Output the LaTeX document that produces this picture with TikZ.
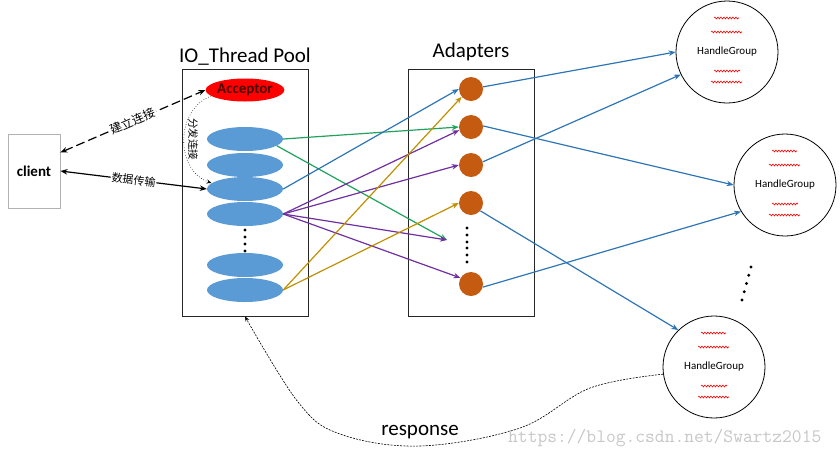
\documentclass[tikz,border=0pt]{standalone}
\usepackage{fontspec}
\setmainfont{Carlito}
\newfontfamily\cjk{Noto Sans CJK SC}
\usetikzlibrary{shapes.geometric,arrows.meta,decorations.pathmorphing}
\definecolor{tblue}{HTML}{5B9BD5}
\definecolor{aorange}{HTML}{C55A11}
\definecolor{lblue}{HTML}{2E75B6}
\definecolor{lgreen}{HTML}{1FA35C}
\definecolor{lpurple}{HTML}{7030A0}
\definecolor{lgold}{HTML}{BF9000}
\definecolor{acctext}{HTML}{4A0000}
\newcommand\hgwaves[1]{%
  \draw[wave] ([shift={(-13,-34)}]#1.center) -- ++(25,0);
  \draw[wave] ([shift={(-16,-20)}]#1.center) -- ++(31,0);
  \draw[wave] ([shift={(-13,19)}]#1.center) -- ++(26,0);
  \draw[wave] ([shift={(-16,30)}]#1.center) -- ++(31,0);}
\begin{document}
\begin{tikzpicture}[x=1pt,y=-1pt,
  pool/.style={draw=black!85, line width=0.8pt, minimum width=126pt, minimum height=247pt, inner sep=0pt},
  title/.style={font=\fontsize{21}{24}\selectfont},
  thread/.style={ellipse, fill=tblue, minimum width=76pt, minimum height=24pt, inner sep=0pt},
  adapter/.style={circle, fill=aorange, minimum size=24pt, inner sep=0pt},
  hgroup/.style={circle, draw, line width=0.8pt, minimum size=102pt, inner sep=0pt, font=\fontsize{11}{13}\selectfont},
  flow/.style={line width=1.2pt, -{Stealth[length=7pt,width=5.5pt]}},
  wave/.style={red, line width=0.6pt, decorate, decoration={snake, segment length=3pt, amplitude=0.9pt}},
  bdot/.style={circle, fill=black, inner sep=0pt, minimum size=3.2pt},
  cjklabel/.style={fill=white, inner sep=1pt}
]
\useasboundingbox (0,0) rectangle (840,459);

% client
\node[draw=black!30, line width=0.8pt, minimum width=52pt, minimum height=74pt, inner sep=0pt,
      font=\bfseries\fontsize{15}{17}\selectfont] (client) at (34,171) {client};

% IO thread pool
\node[pool] (io) at (245,192.5) {};
\node[title] (iot) at (245,57) {IO\_Thread Pool};
\node[ellipse, fill=red, minimum width=75pt, minimum height=23pt, inner sep=0pt,
      font=\bfseries\fontsize{15}{17}\selectfont, text=acctext] (acc) at (245,90) {Acceptor};
\node[thread] (e1) at (245,139) {};
\node[thread] (e2) at (245,165) {};
\node[thread] (e3) at (245,189) {};
\node[thread] (e4) at (245,214) {};
\node[thread] (e5) at (245,265) {};
\node[thread] (e6) at (245,290) {};
\foreach \yy [count=\i] in {230,237,244,251} \node[bdot] (iod\i) at (245,\yy) {};

% Adapters
\node[pool] (ad) at (471.5,192.5) {};
\node[title] (adt) at (471,52) {Adapters};
\node[adapter] (a1) at (471,89) {};
\node[adapter] (a2) at (471,127) {};
\node[adapter] (a3) at (471,165) {};
\node[adapter] (a4) at (471,203) {};
\node[adapter] (a5) at (471,284) {};
\foreach \yy [count=\i] in {228,235,242,248,255,262} \node[bdot] (add\i) at (467,\yy) {};
\coordinate (dd) at (447,240);

% Handle groups
\node[hgroup] (hg1) at (727,52) {HandleGroup};
\node[hgroup] (hg2) at (785,185) {HandleGroup};
\node[hgroup] (hg3) at (714,367) {HandleGroup};
\hgwaves{hg1}
\hgwaves{hg2}
\hgwaves{hg3}
\foreach \i in {0,...,4} \node[bdot] (hgd\i) at ({751-2.25*\i},{267+8.25*\i}) {};

% client connections
\draw[line width=1.2pt, dash pattern=on 9pt off 4pt, {Stealth[length=7pt,width=5.5pt]}-{Stealth[length=7pt,width=5.5pt]}]
  (client.35) -- (acc.west) node[midway, sloped, cjklabel, font=\cjk\fontsize{12}{14}\selectfont] {建立连接};
\draw[line width=1.2pt, {Stealth[length=7pt,width=5.5pt]}-{Stealth[length=7pt,width=5.5pt]}]
  (client.east) -- (e3.west) node[midway, sloped, cjklabel, font=\cjk\fontsize{11}{13}\selectfont] {数据传输};
\draw[dotted, line width=0.6pt, -{Stealth[length=5pt,width=4pt]}]
  (acc.190) .. controls (175,110) and (175,170) .. (e3.170);
\node[font=\cjk\fontsize{10.5}{12}\selectfont, rotate=-90, inner sep=0pt] (fl) at (193,139) {分发连接};

% thread -> adapter flows
\draw[flow, lgreen] (e1.east) -- (a2.west);
\draw[flow, lgreen] (e1.-12) -- (dd);
\draw[flow, lblue] (e3.east) -- (a1.west);
\draw[flow, lpurple] (e4.east) -- (a2.195);
\draw[flow, lpurple] (e4.east) -- (a3.west);
\draw[flow, lpurple] (e4.east) -- (dd);
\draw[flow, lpurple] (e4.east) -- (a5.150);
\draw[flow, lgold] (e6.east) -- (a1.220);
\draw[flow, lgold] (e6.east) -- (a4.west);

% adapter -> handle group flows
\draw[flow, lblue] (a1.10) -- (hg1.west);
\draw[flow, lblue] (a2.5) -- (hg2.west);
\draw[flow, lblue] (a3.15) -- (hg1.206);
\draw[flow, lblue] (a4.-40) -- (hg3.134);
\draw[flow, lblue] (a5.-15) -- (hg2.211);

% response
\draw[line width=0.6pt, dash pattern=on 2pt off 1.2pt, -{Stealth[length=5pt,width=4pt]}]
  plot[smooth, tension=0.6] coordinates {(hg3.188) (590,388) (520,428) (420,446) (340,434) (298,402) (io.south)};
\node[font=\fontsize{21}{23}\selectfont] (resp) at (420,432) {response};

% watermark
\node[font=\ttfamily\fontsize{19}{21}\selectfont, text=black!22, anchor=west, inner sep=0pt] (wm) at (508,438) {https://blog.csdn.net/Swartz2015};
\end{tikzpicture}
\end{document}
